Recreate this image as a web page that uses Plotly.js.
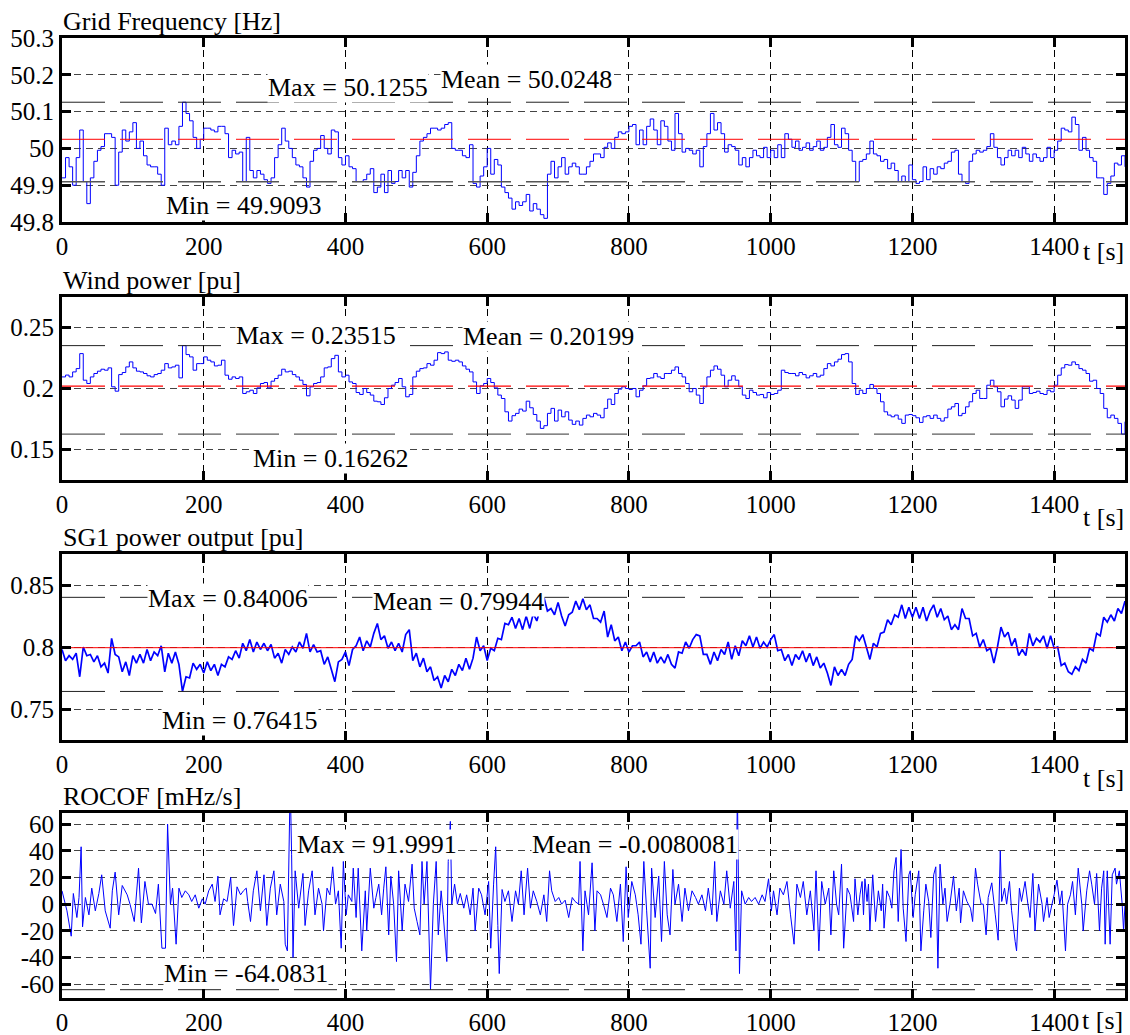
<!DOCTYPE html>
<html>
<head>
<meta charset="utf-8">
<script src="https://cdn.plot.ly/plotly-3.0.1.min.js"></script>
<style>html,body{margin:0;padding:0;background:#fff}</style>
</head>
<body>
<div id="chart" style="width:1130px;height:1035px"></div>
<script>
// Sampling step of the three slow signals [s]
const DT = 5;

// Grid frequency [Hz], one value every 5 s from 0 to 1500 s
const freqHz = [
  49.92, 49.975, 49.95, 49.90, 49.975, 50.05, 49.91, 49.85, 49.92, 49.965,
  49.995, 50.005, 50.04, 50.04, 50.03, 49.90, 49.99, 50.05, 50.02, 50.045,
  50.07, 50.00, 50.02, 49.98, 49.955, 49.95, 49.95, 49.93, 49.90, 50.055,
  50.01, 50.02, 50.01, 50.06, 50.1255, 50.095, 50.075, 50.03, 50.00, 50.025,
  50.055, 50.055, 50.05, 50.045, 50.06, 50.06, 50.04, 49.975, 49.995, 49.985,
  49.99, 49.91, 50.03, 49.94, 49.92, 49.94, 49.93, 49.915, 49.905, 49.92,
  49.975, 50.01, 50.055, 50.02, 50.00, 49.975, 49.955, 49.95, 49.92, 49.895,
  49.965, 49.995, 50.00, 50.035, 50.00, 49.985, 50.05, 50.045, 49.975, 49.955,
  49.98, 49.95, 49.945, 49.91, 49.91, 49.915, 49.93, 49.945, 49.88, 49.895,
  49.93, 49.88, 49.94, 49.905, 49.91, 49.94, 49.92, 49.94, 49.895, 49.935,
  49.98, 50.02, 50.03, 50.04, 50.055, 50.055, 50.05, 50.055, 50.065, 50.07,
  50.00, 49.995, 49.995, 49.98, 49.975, 50.01, 49.905, 49.895, 49.925, 49.95,
  50.00, 49.93, 49.97, 49.955, 49.895, 49.88, 49.865, 49.835, 49.855, 49.845,
  49.855, 49.875, 49.83, 49.85, 49.835, 49.82, 49.81, 49.93, 49.965, 49.92,
  49.95, 49.975, 49.93, 49.95, 49.96, 49.95, 49.93, 49.93, 49.95, 49.965,
  49.985, 49.985, 49.975, 50.003, 50.015, 50.00, 50.03, 50.045, 50.04, 50.045,
  50.06, 50.065, 50.01, 50.05, 50.01, 50.06, 50.08, 50.05, 50.01, 50.075,
  50.06, 50.02, 49.995, 50.095, 50.04, 49.99, 50.00, 49.995, 49.985, 49.995,
  49.95, 50.005, 50.04, 50.095, 50.05, 50.07, 50.04, 49.99, 50.01, 50.005,
  49.995, 49.955, 49.975, 49.95, 49.975, 49.995, 49.98, 49.975, 50.003, 49.975,
  49.995, 49.975, 50.01, 49.975, 50.04, 50.025, 50.003, 50.02, 49.995, 50.003,
  50.015, 49.995, 50.005, 50.02, 49.995, 50.003, 50.03, 50.065, 50.01, 50.003,
  50.055, 50.04, 49.995, 49.965, 49.91, 49.965, 49.97, 49.985, 50.02, 49.985,
  49.98, 49.965, 49.97, 49.945, 49.96, 49.94, 49.91, 49.925, 49.91, 49.955,
  49.915, 49.905, 49.91, 49.95, 49.915, 49.945, 49.93, 49.95, 49.945, 49.96,
  49.965, 49.99, 49.995, 49.93, 49.91, 49.905, 49.965, 49.985, 49.995, 49.99,
  49.995, 50.005, 50.04, 50.003, 49.975, 49.955, 49.975, 49.995, 49.98, 49.995,
  49.975, 50.003, 49.985, 49.965, 49.985, 49.975, 49.965, 49.975, 50.003, 49.975,
  49.995, 50.02, 50.055, 50.05, 50.045, 50.085, 50.065, 49.995, 50.03, 49.995,
  49.975, 49.965, 49.92, 49.92, 49.875, 49.905, 49.925, 49.96, 49.955, 49.98,
  49.95
];

// Wind power [pu], one value every 5 s
const windPu = [
  0.2095, 0.211, 0.2095, 0.2136, 0.2163, 0.2286, 0.2068, 0.2041, 0.2095, 0.2123,
  0.2142, 0.2158, 0.215, 0.2169, 0.2014, 0.1978, 0.2114, 0.2131, 0.2177, 0.2218,
  0.2169, 0.2142, 0.2136, 0.2123, 0.2104, 0.2095, 0.2114, 0.2123, 0.215, 0.2204,
  0.2169, 0.2177, 0.2191, 0.2087, 0.23515, 0.2278, 0.2259, 0.215, 0.2204, 0.2204,
  0.2259, 0.2232, 0.2218, 0.2185, 0.2191, 0.2232, 0.2109, 0.2076, 0.2095, 0.2082,
  0.2095, 0.1959, 0.1973, 0.1986, 0.1959, 0.2005, 0.2041, 0.2049, 0.2005, 0.206,
  0.2082, 0.2109, 0.2158, 0.2136, 0.2142, 0.2114, 0.2095, 0.2068, 0.2033, 0.194,
  0.2014, 0.2041, 0.2049, 0.2095, 0.2169, 0.2177, 0.2245, 0.2272, 0.2136, 0.2095,
  0.2109, 0.2054, 0.2041, 0.1967, 0.1951, 0.20, 0.1967, 0.1946, 0.1896, 0.1891,
  0.1869, 0.1924, 0.20, 0.2027, 0.2049, 0.2082, 0.2014, 0.1932, 0.1951, 0.2095,
  0.2142, 0.2163, 0.2169, 0.2204, 0.2191, 0.2232, 0.2294, 0.2286, 0.23, 0.2232,
  0.2223, 0.2232, 0.2218, 0.2185, 0.2158, 0.2136, 0.2054, 0.1959, 0.2022, 0.2041,
  0.2082, 0.2049, 0.2005, 0.1946, 0.1918, 0.1809, 0.1733, 0.1777, 0.1796, 0.1831,
  0.1815, 0.1896, 0.1842, 0.1787, 0.1733, 0.1673, 0.1695, 0.1796, 0.1837, 0.1733,
  0.1823, 0.1768, 0.1809, 0.1741, 0.1706, 0.1733, 0.17, 0.1755, 0.1782, 0.1768,
  0.1796, 0.1782, 0.176, 0.1837, 0.1913, 0.1869, 0.1959, 0.1995, 0.2014, 0.20,
  0.1992, 0.20, 0.1932, 0.1986, 0.2022, 0.2082, 0.2087, 0.2123, 0.2095, 0.2082,
  0.2123, 0.2123, 0.215, 0.2177, 0.2123, 0.2095, 0.2041, 0.1973, 0.20, 0.1946,
  0.1877, 0.2014, 0.2095, 0.215, 0.2185, 0.2158, 0.2109, 0.2014, 0.2068, 0.2104,
  0.2068, 0.2014, 0.1946, 0.1918, 0.1986, 0.1967, 0.1946, 0.1951, 0.1924, 0.1967,
  0.1951, 0.1959, 0.1986, 0.215, 0.2131, 0.2123, 0.2123, 0.2104, 0.2131, 0.2114,
  0.2087, 0.2104, 0.2123, 0.2095, 0.2109, 0.2163, 0.2204, 0.2185, 0.2218, 0.224,
  0.2278, 0.2286, 0.2218, 0.2041, 0.1951, 0.1986, 0.1959, 0.20, 0.2033, 0.20,
  0.1959, 0.1891, 0.1809, 0.1782, 0.1768, 0.1782, 0.1749, 0.1714, 0.1782, 0.1787,
  0.1777, 0.176, 0.1722, 0.1768, 0.1777, 0.1755, 0.1782, 0.1755, 0.1733, 0.176,
  0.1831, 0.185, 0.1877, 0.1777, 0.1796, 0.185, 0.1891, 0.1959, 0.1986, 0.1918,
  0.1918, 0.2027, 0.2068, 0.2014, 0.1973, 0.185, 0.1913, 0.194, 0.1905, 0.1837,
  0.1905, 0.2014, 0.2014, 0.1959, 0.1967, 0.1978, 0.1959, 0.1951, 0.1986, 0.1973,
  0.2027, 0.2109, 0.2169, 0.2196, 0.2191, 0.2218, 0.2196, 0.2163, 0.215, 0.2123,
  0.206, 0.2068, 0.20, 0.1959, 0.1837, 0.176, 0.1782, 0.1755, 0.1714, 0.16262,
  0.1728
];

// SG1 active power output [pu], one value every 5 s
const sg1Pu = [
  0.798, 0.789, 0.793, 0.790, 0.795, 0.776, 0.800, 0.793, 0.794, 0.788,
  0.793, 0.784, 0.787, 0.779, 0.807, 0.794, 0.792, 0.780, 0.788, 0.777,
  0.793, 0.787, 0.794, 0.787, 0.798, 0.789, 0.796, 0.793, 0.801, 0.780,
  0.795, 0.787, 0.796, 0.786, 0.76415, 0.776, 0.775, 0.787, 0.782, 0.786,
  0.779, 0.788, 0.781, 0.786, 0.777, 0.786, 0.784, 0.792, 0.790, 0.797,
  0.791, 0.803, 0.797, 0.806, 0.796, 0.804, 0.798, 0.803, 0.797, 0.802,
  0.791, 0.795, 0.787, 0.798, 0.794, 0.800, 0.796, 0.804, 0.799, 0.811,
  0.796, 0.802, 0.796, 0.797, 0.786, 0.792, 0.782, 0.772, 0.788, 0.790,
  0.796, 0.785, 0.798, 0.801, 0.808, 0.797, 0.805, 0.800, 0.811, 0.819,
  0.806, 0.809, 0.799, 0.804, 0.797, 0.803, 0.796, 0.810, 0.814, 0.789,
  0.795, 0.784, 0.791, 0.780, 0.784, 0.773, 0.776, 0.767, 0.777, 0.772,
  0.782, 0.777, 0.786, 0.781, 0.791, 0.782, 0.791, 0.808, 0.797, 0.801,
  0.789, 0.799, 0.797, 0.807, 0.806, 0.819, 0.818, 0.824, 0.815, 0.823,
  0.814, 0.825, 0.815, 0.827, 0.821, 0.831, 0.84006, 0.829, 0.831, 0.826,
  0.836, 0.825, 0.817, 0.826, 0.828, 0.837, 0.830, 0.839, 0.830, 0.834,
  0.823, 0.823, 0.820, 0.829, 0.808, 0.818, 0.805, 0.808, 0.797, 0.804,
  0.796, 0.801, 0.801, 0.804, 0.792, 0.796, 0.788, 0.796, 0.787, 0.792,
  0.787, 0.794, 0.786, 0.783, 0.796, 0.795, 0.804, 0.799, 0.806, 0.810,
  0.809, 0.794, 0.794, 0.786, 0.796, 0.789, 0.798, 0.794, 0.804, 0.790,
  0.801, 0.793, 0.805, 0.801, 0.809, 0.800, 0.808, 0.799, 0.804, 0.800,
  0.806, 0.810, 0.797, 0.798, 0.789, 0.794, 0.785, 0.794, 0.790, 0.797,
  0.788, 0.795, 0.785, 0.792, 0.783, 0.787, 0.779, 0.769, 0.784, 0.777,
  0.782, 0.777, 0.786, 0.790, 0.809, 0.805, 0.810, 0.800, 0.790, 0.803,
  0.800, 0.811, 0.812, 0.822, 0.818, 0.826, 0.824, 0.834, 0.823, 0.832,
  0.824, 0.832, 0.823, 0.832, 0.821, 0.829, 0.834, 0.824, 0.831, 0.822,
  0.825, 0.814, 0.818, 0.814, 0.831, 0.823, 0.823, 0.809, 0.811, 0.800,
  0.806, 0.797, 0.799, 0.787, 0.800, 0.816, 0.808, 0.812, 0.801, 0.807,
  0.793, 0.798, 0.793, 0.811, 0.801, 0.807, 0.804, 0.809, 0.799, 0.809,
  0.799, 0.800, 0.785, 0.787, 0.780, 0.778, 0.784, 0.781, 0.790, 0.787,
  0.799, 0.797, 0.811, 0.809, 0.824, 0.820, 0.826, 0.821, 0.831, 0.827,
  0.837
];

// ROCOF samples: time [s] and value [mHz/s]
const rocofT = [
  0, 7, 13, 16, 21, 24, 27, 29, 33, 38, 42, 47, 52, 56, 61, 68, 71, 75, 80, 85,
  92, 96, 102, 108, 112, 117, 122, 127, 132, 136, 141, 146, 149, 153, 156, 161, 165, 169, 174, 179,
  183, 188, 193, 198, 202, 207, 212, 216, 220, 223, 228, 233, 238, 242, 247, 252, 256, 260, 262, 266,
  270, 275, 280, 285, 289, 294, 299, 303, 308, 313, 315, 318, 322, 324, 326, 329, 334, 340, 343, 348,
  353, 357, 362, 367,
  369, 374, 378, 382, 386, 390, 394, 397, 401, 404, 409, 411, 415, 418, 423, 428, 430, 435, 440, 443,
  447, 451, 454, 457, 461, 464, 468, 472, 475, 480, 484, 489, 494, 497, 501, 505, 508, 511, 515, 520,
  524, 528, 531, 535, 538, 543, 545, 548, 550, 554, 558, 562, 567, 571, 576, 580, 583, 588, 592, 597,
  602, 605, 609, 612, 615, 617, 621, 625, 630, 635, 640, 644, 648, 652, 657, 661, 665, 670, 675, 680,
  684, 688, 691, 696, 701, 705, 710, 715, 720, 724, 729, 731, 735,
  738, 743, 748, 752, 755, 760, 764, 769, 774, 778, 783, 788, 792, 796, 799, 804, 809, 813, 817, 821,
  825, 830, 832, 837, 842, 846, 850, 854, 858, 862, 865, 870, 875, 879, 884, 889, 894, 898, 903, 908,
  912, 917, 921, 924, 929, 934, 938, 943, 948, 951, 953, 956, 959, 964, 969, 973, 978, 983, 988, 992,
  997, 1001, 1004, 1009, 1013, 1018, 1023, 1028, 1033, 1037, 1042, 1046, 1051, 1056, 1061, 1064, 1068, 1072, 1077, 1082,
  1085, 1089, 1093, 1096, 1100, 1103, 1108,
  1112, 1117, 1119, 1123, 1126, 1129, 1131, 1133, 1136, 1138, 1140, 1144, 1148, 1152, 1156, 1158, 1160, 1164, 1168, 1171,
  1174, 1177, 1180, 1184, 1187, 1191, 1195, 1197, 1201, 1204, 1209, 1212, 1216, 1219, 1223, 1226, 1230, 1233, 1236, 1239,
  1243, 1246, 1249, 1253, 1258, 1262, 1266, 1268, 1272, 1277, 1282, 1285, 1289, 1292, 1297, 1300, 1304, 1307, 1312, 1317,
  1321, 1324, 1326, 1330, 1333, 1337, 1340, 1345, 1347, 1351, 1354, 1359, 1363, 1366, 1370, 1373, 1378, 1383, 1385, 1390,
  1393, 1397, 1400, 1404, 1408, 1411, 1416, 1419, 1423, 1426, 1430, 1434, 1439, 1441, 1446, 1450, 1453, 1457, 1460, 1464,
  1467, 1470, 1472, 1475, 1479, 1482, 1486, 1488, 1492, 1496, 1498, 1500
];
const rocofV = [
  10, -5, -24, 8, -10, 5, 43, -17, 5, -8, 12, -5, 8, 22, -5, -18, 10, 24, -8, 14,
  7, 0, -13, 27, -14, 17, 0, 0, -7, 15, -33, -33, 60, 0, 12, -30, 12, 5, 10, 7,
  2, 7, -3, 4, 0, 10, 15, 2, 21, -8, 4, 2, 20, -16, 13, 7, 10, 12, 2, -13,
  10, 25, -5, 22, -16, 12, 25, -8, 15, 2, -30, -35, 91.9991, 37, -40, 25, -3, 23, -16, 10,
  25, -8, 12, 0,
  -20, 12, 7, 28, 0, 10, -33, 32, -8, 7, 2, 27, -10, 27, -35, 10, -20, 27, -3, 5,
  15, -8, 12, 28, -23, 21, 0, -43, 25, -20, 15, 2, 30, -3, -13, -23, 32, 0, 32, -64.0831,
  0, 32, -23, 10, -8, -43, 32, 62, 0, 15, 0, 8, -3, 7, -8, 12, -20, 12, 7, -8,
  17, -33, 15, 43, -16, -52, 11, 2, 10, -13, 10, 0, 25, -8, 27, -3, 10, 2, -8, 7,
  -13, 25, 10, 2, 5, 0, 3, -10, 5, 2, 0, 32, -35,
  10, -8, 31, -20, 10, 7, 0, -10, 12, 7, -13, 15, -28, 28, -10, 17, 7, -8, -30, 32,
  -5, -48, 27, -10, 21, -28, 32, -8, -23, 26, 0, 15, -13, 12, -5, 10, 5, 0, 7, -5,
  12, -8, 32, -13, 10, 0, 25, -3, 17, -35, 88, -52, 10, 0, 5, 2, 5, 0, 7, 2,
  19, -5, 10, -8, 12, 7, 17, -8, -30, 15, 5, 17, -8, 10, -20, 25, -35, 17, 0, 12,
  -23, 25, 0, -8, 30, -33, 12,
  7, -13, 19, -8, 7, 17, -8, 19, 2, 15, -20, 22, -13, 10, -5, 15, -18, 10, 5, -3,
  25, 35, -13, 41, -3, -28, 22, 25, -10, 7, 25, -35, -5, 15, 2, -25, 22, 28, -48, 30,
  0, 12, -13, 0, 21, -5, 12, -14, 10, 2, -3, -13, 27, 15, 0, 0, -23, 5, 16, -8,
  -27, 40, 2, 12, 0, 17, -5, -28, -35, 12, 2, 17, 0, -10, 23, -20, 15, 0, -13, 5,
  -10, 0, 7, 18, 0, 10, -35, 0, 7, 17, -8, 27, 0, -20, 10, 25, 15, 0, 23, -20,
  12, 25, -30, 25, -30, 22, 27, 15, 25, 0, -20, 0
];

// Summary statistics [max, mean, min] printed on each panel
const freqStats  = [50.1255, 50.0248, 49.9093];
const windStats  = [0.23515, 0.20199, 0.16262];
const sg1Stats   = [0.84006, 0.79944, 0.76415];
const rocofStats = [91.9991, -0.0080081, -64.0831];

const panelTitles = ['Grid Frequency [Hz]', 'Wind power [pu]', 'SG1 power output [pu]', 'ROCOF [mHz/s]'];
const timeTicks = [0, 200, 400, 600, 800, 1000, 1200, 1400];

const tGrid = freqHz.map((_, i) => i * DT);

const FONT = 'Liberation Serif, Times New Roman, serif';
const BLUE = '#0000ff';
const LONG_DASH = '43px,15px';
const TICK_SIZE = 25;
const TEXT_SIZE = 26;

function signal(x, y, k, shape, width) {
  return {x: x, y: y, xaxis: 'x' + k, yaxis: 'y' + k, type: 'scatter', mode: 'lines',
          line: {color: BLUE, width: width, shape: shape, simplify: false}, hoverinfo: 'skip'};
}
function level(v, k, color, dash, width) {
  return {x: [0, 1500], y: [v, v], xaxis: 'x' + k, yaxis: 'y' + k, type: 'scatter', mode: 'lines',
          line: {color: color, width: width, dash: dash}, hoverinfo: 'skip'};
}

const traces = [
  signal(tGrid, freqHz, '', 'hv', 1),
  level(freqStats[0], '', '#222', LONG_DASH, 1),
  level(freqStats[2], '', '#555', LONG_DASH, 1.5),
  level(freqStats[1], '', '#ff0000', LONG_DASH, 1),

  signal(tGrid, windPu, 2, 'hv', 1),
  level(windStats[0], 2, '#222', LONG_DASH, 1),
  level(windStats[2], 2, '#333', LONG_DASH, 1),
  level(windStats[1], 2, '#ff0000', LONG_DASH, 1.2),

  signal(tGrid, sg1Pu, 3, 'linear', 1.7),
  level(sg1Stats[0], 3, '#222', LONG_DASH, 1),
  level(sg1Stats[2], 3, '#222', LONG_DASH, 1),
  level(sg1Stats[1], 3, '#ff0000', 'solid', 1),

  signal(rocofT, rocofV, 4, 'linear', 1),
  level(rocofStats[0], 4, '#222', LONG_DASH, 1),
  level(rocofStats[2], 4, '#222', LONG_DASH, 1)
];

function xAxis(anchor) {
  return {
    anchor: anchor, domain: [0, 1], range: [0, 1500],
    tickmode: 'array', tickvals: timeTicks, ticktext: timeTicks.map(String),
    ticks: 'inside', ticklen: 9, tickwidth: 3, tickcolor: '#000',
    showline: true, linewidth: 3, linecolor: '#000', mirror: 'ticks',
    showgrid: true, gridcolor: '#000', gridwidth: 1, griddash: '7px,5px',
    zeroline: false, tickfont: {family: FONT, size: TICK_SIZE, color: '#000'}
  };
}
function yAxis(anchor, domain, range, vals, labels) {
  return {
    anchor: anchor, domain: domain, range: range,
    tickmode: 'array', tickvals: vals, ticktext: labels,
    ticks: 'inside', ticklen: 9, tickwidth: 3, tickcolor: '#000',
    showline: true, linewidth: 3, linecolor: '#000', mirror: 'ticks',
    showgrid: true, gridcolor: '#444', gridwidth: 1, griddash: '7px,5px',
    zeroline: false, tickfont: {family: FONT, size: TICK_SIZE, color: '#000'}
  };
}

const domains = [[0.8083, 1.0], [0.5396, 0.7302], [0.26875, 0.4625], [0, 0.1927]];

function label(text, x, y, k) {
  return {text: text, x: x, y: y, xref: 'x' + k, yref: 'y' + k, showarrow: false,
          xanchor: 'center', yanchor: 'middle', bgcolor: '#ffffff', borderpad: 0,
          font: {family: FONT, size: TEXT_SIZE, color: '#000'}};
}
function paperText(text, x, y, xanchor, yanchor, yshift) {
  return {text: text, x: x, y: y, xref: 'paper', yref: 'paper', showarrow: false,
          xanchor: xanchor, yanchor: yanchor, yshift: yshift, borderpad: 0,
          font: {family: FONT, size: TEXT_SIZE, color: '#000'}};
}

const annotations = [
  label('Max = ' + freqStats[0], 404, 50.165, ''),
  label('Mean = ' + freqStats[1], 655, 50.187, ''),
  label('Min = ' + freqStats[2], 257, 49.846, ''),
  label('Max = ' + windStats[0], 359, 0.2435, 2),
  label('Mean = ' + windStats[1], 687, 0.2425, 2),
  label('Min = ' + windStats[2], 380, 0.1428, 2),
  label('Max = ' + sg1Stats[0], 234, 0.839, 3),
  label('Mean = ' + sg1Stats[1], 559, 0.837, 3),
  label('Min = ' + sg1Stats[2], 251, 0.7409, 3),
  label('Max = ' + rocofStats[0], 444, 44.7, 4),
  label('Mean = ' + rocofStats[1], 808, 44.7, 4),
  label('Min = ' + rocofStats[2], 260, -52, 4)
];
panelTitles.forEach((t, i) => annotations.push(paperText(t, 0, domains[i][1], 'left', 'bottom', 1)));
const tLabelPos = [[0.98, 0.7771], [0.98, 0.501], [0.98, 0.229], [0.979, -0.0235]];
tLabelPos.forEach(p => annotations.push(paperText('t [s]', p[0], p[1], 'center', 'middle', 0)));

const layout = {
  width: 1130, height: 1035,
  margin: {l: 62, r: 5, t: 38, b: 37},
  paper_bgcolor: '#fff', plot_bgcolor: '#fff',
  showlegend: false,
  font: {family: FONT, size: TICK_SIZE, color: '#000'},
  xaxis: xAxis('y'),
  xaxis2: xAxis('y2'),
  xaxis3: xAxis('y3'),
  xaxis4: xAxis('y4'),
  yaxis: yAxis('x', domains[0], [49.8, 50.3], [49.8, 49.9, 50, 50.1, 50.2, 50.3], ['49.8', '49.9', '50', '50.1', '50.2', '50.3']),
  yaxis2: yAxis('x2', domains[1], [0.125, 0.275], [0.15, 0.2, 0.25], ['0.15', '0.2', '0.25']),
  yaxis3: yAxis('x3', domains[2], [0.725, 0.875], [0.75, 0.8, 0.85], ['0.75', '0.8', '0.85']),
  yaxis4: yAxis('x4', domains[3], [-70.3, 68.3], [-60, -40, -20, 0, 20, 40, 60], ['-60', '-40', '-20', '0', '20', '40', '60']),
  annotations: annotations
};

Plotly.newPlot('chart', traces, layout, {displayModeBar: false, staticPlot: true});
</script>
</body>
</html>
